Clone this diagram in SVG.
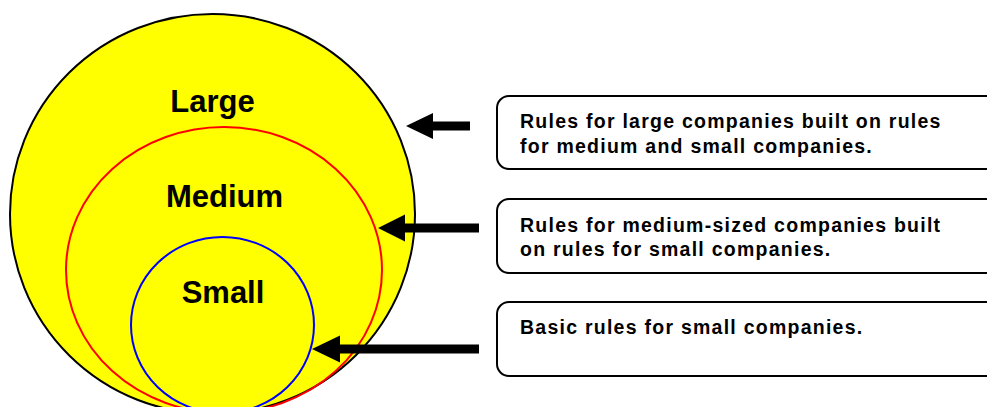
<svg xmlns="http://www.w3.org/2000/svg" width="987" height="407" viewBox="0 0 987 407">
<style>
.lbl{font-family:"Liberation Sans",Arial,sans-serif;font-weight:bold;font-size:31px;fill:#000;text-anchor:middle}
.box{fill:#fff;stroke:#000;stroke-width:2}
.bt{font-family:"Liberation Sans",Arial,sans-serif;font-weight:bold;font-size:19.5px;fill:#000;letter-spacing:1.25px}
.arr{fill:#000}
</style>
<rect width="987" height="407" fill="#fff"/>
<g id="large">
<ellipse cx="212.5" cy="214" rx="202.5" ry="200" fill="#ffff00" stroke="#000" stroke-width="2"/>
<text class="lbl" x="212.5" y="112">Large</text>
</g>
<g id="medium">
<ellipse cx="224" cy="270" rx="158" ry="143" fill="none" stroke="#ff0000" stroke-width="2"/>
<text class="lbl" x="224.5" y="207">Medium</text>
</g>
<g id="small">
<ellipse cx="222.5" cy="325" rx="91.5" ry="88" fill="none" stroke="#0000ff" stroke-width="2"/>
<text class="lbl" x="223" y="303">Small</text>
</g>
<g id="box1">
<rect class="box" x="497" y="96" width="510" height="73" rx="12"/>
<text class="bt" x="520" y="128">Rules for large companies built on rules</text>
<text class="bt" x="520" y="153">for medium and small companies.</text>
</g>
<g id="box2">
<rect class="box" x="497" y="199" width="510" height="74" rx="12"/>
<text class="bt" x="520" y="232">Rules for medium-sized companies built</text>
<text class="bt" x="520" y="256">on rules for small companies.</text>
</g>
<g id="box3">
<rect class="box" x="497" y="302" width="510" height="74" rx="12"/>
<text class="bt" x="520" y="334">Basic rules for small companies.</text>
</g>
<g id="connectors">
<polygon class="arr" points="406,126 433,113 433,121.5 470,121.5 470,130.5 433,130.5 433,139"/>
<polygon class="arr" points="378,228 405,214.5 405,223.5 479,223.5 479,232.5 405,232.5 405,241.5"/>
<polygon class="arr" points="312,349 340,335.5 340,344.5 479,344.5 479,353.5 340,353.5 340,362.5"/>
</g>
</svg>
